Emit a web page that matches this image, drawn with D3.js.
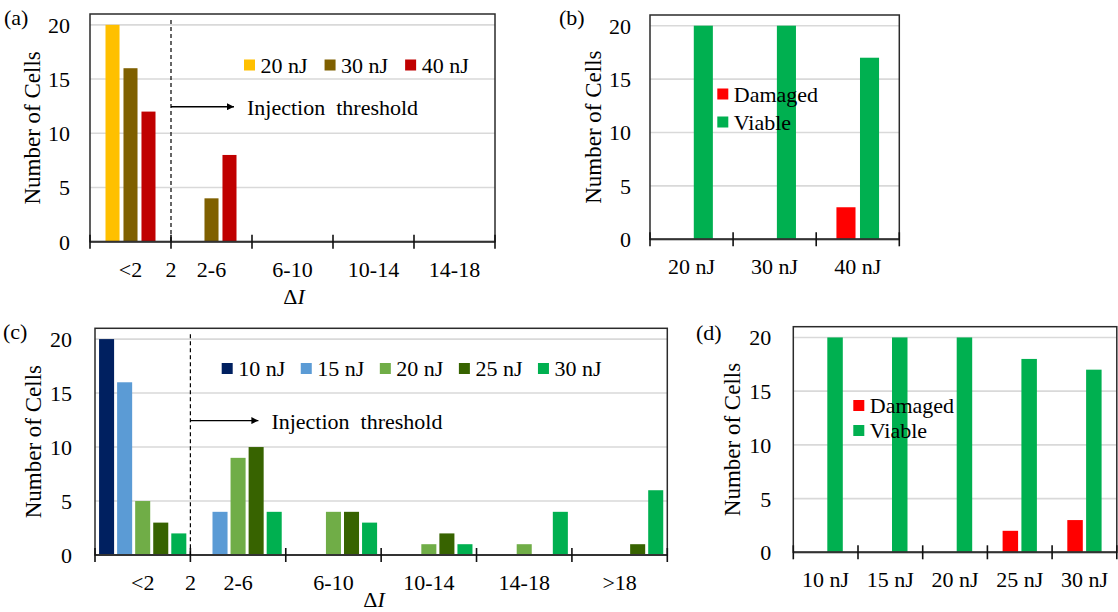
<!DOCTYPE html>
<html>
<head>
<meta charset="utf-8">
<script src="https://cdn.jsdelivr.net/npm/d3@7"></script>
<style>
  html, body { margin: 0; padding: 0; background: #fff; }
  svg { display: block; font-family: "Liberation Serif", "Times New Roman", serif; }
</style>
</head>
<body>
<svg id="fig" width="1118" height="612"></svg>
<script>
// ---- (a) ΔI distribution, first pulse-energy set ----
const binsA = ["<2", "2-6", "6-10", "10-14", "14-18"];
const energiesA = ["20 nJ", "30 nJ", "40 nJ"];
const countsA20 = [20, 0, 0, 0, 0];
const countsA30 = [16, 4, 0, 0, 0];
const countsA40 = [12, 8, 0, 0, 0];
const coloursA = ["#FFC000", "#7F6000", "#C00000"];

// ---- (b) cell status, first pulse-energy set ----
const energiesB = ["20 nJ", "30 nJ", "40 nJ"];
const damagedB = [0, 0, 3];
const viableB = [20, 20, 17];

// ---- (c) ΔI distribution, second pulse-energy set ----
const binsC = ["<2", "2-6", "6-10", "10-14", "14-18", ">18"];
const energiesC = ["10 nJ", "15 nJ", "20 nJ", "25 nJ", "30 nJ"];
const countsC10 = [20, 0, 0, 0, 0, 0];
const countsC15 = [16, 4, 0, 0, 0, 0];
const countsC20 = [5, 9, 4, 1, 1, 0];
const countsC25 = [3, 10, 4, 2, 0, 1];
const countsC30 = [2, 4, 3, 1, 4, 6];
const coloursC = ["#002060", "#5B9BD5", "#70AD47", "#376300", "#00B050"];

// ---- (d) cell status, second pulse-energy set ----
const energiesD = ["10 nJ", "15 nJ", "20 nJ", "25 nJ", "30 nJ"];
const damagedD = [0, 0, 0, 2, 3];
const viableD = [20, 20, 20, 18, 17];

const statusLabels = ["Damaged", "Viable"];
const statusColours = ["#FF0000", "#00B050"];

const yTicks = [0, 5, 10, 15, 20];
const yMax = 21;
const thresholdLabel = "2";
const thresholdText = "Injection  threshold";
const yTitle = "Number of Cells";

const svg = d3.select("#fig");
const defs = svg.append("defs");
defs.append("marker")
  .attr("id", "arrowHead")
  .attr("viewBox", "0 0 10 10")
  .attr("refX", 10).attr("refY", 5)
  .attr("markerWidth", 8).attr("markerHeight", 7)
  .attr("markerUnits", "userSpaceOnUse")
  .attr("orient", "auto")
  .append("path").attr("d", "M0,0 L10,5 L0,10 Z").attr("fill", "#000");

const FONT = 22;

function drawPanel(o) {
  const g = svg.append("g");
  const x = d3.scaleBand().domain(o.cats).range([o.left, o.right]);
  const y = d3.scaleLinear().domain([0, yMax]).range([o.bottom, o.top]);
  const bw = x.bandwidth();
  const gw = bw * o.groupFrac;
  const xi = d3.scaleBand()
    .domain(o.series.map(s => s.name))
    .range([(bw - gw) / 2, (bw + gw) / 2])
    .paddingInner(o.innerPad);

  // horizontal gridlines
  g.append("g").selectAll("line")
    .data(yTicks.filter(t => t > 0))
    .join("line")
    .attr("x1", o.left).attr("x2", o.right)
    .attr("y1", d => y(d)).attr("y2", d => y(d))
    .attr("stroke", "#d9d9d9").attr("stroke-width", 1.6);

  // bars
  o.series.forEach(s => {
    g.append("g").selectAll("rect")
      .data(s.values.map((v, i) => ({ cat: o.cats[i], v })).filter(d => d.v > 0))
      .join("rect")
      .attr("x", d => x(d.cat) + xi(s.name))
      .attr("width", xi.bandwidth())
      .attr("y", d => y(d.v))
      .attr("height", d => y(0) - y(d.v))
      .attr("fill", s.colour);
  });

  // plot frame
  g.append("rect")
    .attr("x", o.left).attr("y", o.top)
    .attr("width", o.right - o.left).attr("height", o.bottom - o.top)
    .attr("fill", "none").attr("stroke", "#2b2b2b").attr("stroke-width", 1.5);

  // y axis labels
  const yAxis = d3.axisLeft(y).tickValues(yTicks).tickSize(0).tickPadding(o.yPad);
  const ya = g.append("g").attr("transform", `translate(${o.left},0)`).call(yAxis);
  ya.attr("font-family", null).attr("font-size", FONT);
  ya.select(".domain").remove();
  ya.selectAll("text").attr("fill", "#000").attr("dy", "0.34em");

  // x axis labels at category centres
  const xAxis = d3.axisBottom(x).tickSize(0).tickPadding(0);
  const xa = g.append("g").attr("transform", `translate(0,${y(0)})`).call(xAxis);
  xa.attr("font-family", null).attr("font-size", FONT);
  xa.select(".domain").remove();
  xa.selectAll("text").attr("fill", "#000").attr("y", 35).attr("dy", null);

  // baseline and category boundary ticks
  g.append("line")
    .attr("x1", o.left).attr("x2", o.right)
    .attr("y1", y(0)).attr("y2", y(0))
    .attr("stroke", "#333").attr("stroke-width", 2);
  const bounds = o.cats.map(c => x(c)).concat([o.right]);
  g.append("g").selectAll("line")
    .data(bounds)
    .join("line")
    .attr("x1", d => d).attr("x2", d => d)
    .attr("y1", y(0) - 7).attr("y2", y(0) + 7)
    .attr("stroke", "#111").attr("stroke-width", 1.6);

  // y axis title
  g.append("text")
    .attr("transform", `translate(${o.left - o.titleOff},${(o.top + o.bottom) / 2}) rotate(-90)`)
    .attr("text-anchor", "middle").attr("dy", "0.35em")
    .attr("font-size", 23).text(yTitle);

  // panel letter
  g.append("text")
    .attr("x", o.tagX).attr("y", o.tagY)
    .attr("font-size", FONT).text(o.tag);

  // legend
  if (o.legendRow) {
    let lx = o.legendX;
    o.series.forEach(s => {
      g.append("rect").attr("x", lx).attr("y", o.legendY - 5.5)
        .attr("width", 11).attr("height", 11).attr("fill", s.colour);
      const t = g.append("text").attr("x", lx + 16.5).attr("y", o.legendY)
        .attr("dy", "0.35em").attr("font-size", FONT).text(s.name);
      lx += 16.5 + t.node().getComputedTextLength() + o.legendGap;
    });
  } else {
    o.series.forEach((s, i) => {
      const ly = o.legendY + i * o.legendStep;
      g.append("rect").attr("x", o.legendX).attr("y", ly - 5.5)
        .attr("width", 11).attr("height", 11).attr("fill", s.colour);
      g.append("text").attr("x", o.legendX + 16.5).attr("y", ly)
        .attr("dy", "0.35em").attr("font-size", FONT).text(s.name);
    });
  }

  // injection threshold marker and ΔI axis title
  if (o.threshold) {
    const tx = x(o.cats[1]);
    g.append("line")
      .attr("x1", tx).attr("x2", tx)
      .attr("y1", y(20.45)).attr("y2", y(0))
      .attr("stroke", "#000").attr("stroke-width", 1.2)
      .attr("stroke-dasharray", "4,3");
    g.append("text")
      .attr("x", tx).attr("y", y(0) + 35)
      .attr("text-anchor", "middle").attr("font-size", FONT).text(thresholdLabel);
    const ay = y(12.45);
    g.append("line")
      .attr("x1", tx).attr("x2", tx + o.arrowLen)
      .attr("y1", ay).attr("y2", ay)
      .attr("stroke", "#000").attr("stroke-width", 1.4)
      .attr("marker-end", "url(#arrowHead)");
    g.append("text")
      .attr("x", tx + o.arrowLen + 13).attr("y", ay + 1)
      .attr("dy", "0.35em").attr("font-size", FONT)
      .attr("xml:space", "preserve").style("white-space", "pre")
      .text(thresholdText);
    const dl = g.append("text")
      .attr("x", o.dX).attr("y", o.dY)
      .attr("text-anchor", "middle").attr("font-size", FONT);
    dl.append("tspan").text("\u0394");
    dl.append("tspan").attr("font-style", "italic").text("I");
  }
}

drawPanel({
  tag: "(a)", tagX: 4, tagY: 25,
  cats: binsA,
  series: energiesA.map((n, i) => ({ name: n, colour: coloursA[i], values: [countsA20, countsA30, countsA40][i] })),
  left: 90, right: 495, top: 14, bottom: 241.7,
  groupFrac: 50 / 81, innerPad: 0.22,
  yPad: 20, titleOff: 58,
  legendRow: true, legendX: 244, legendY: 65, legendGap: 17,
  threshold: true, arrowLen: 63, dX: 294, dY: 304
});

drawPanel({
  tag: "(b)", tagX: 559, tagY: 25,
  cats: energiesB,
  series: statusLabels.map((n, i) => ({ name: n, colour: statusColours[i], values: [damagedB, viableB][i] })),
  left: 650, right: 899.3, top: 15, bottom: 239.3,
  groupFrac: 0.513, innerPad: 0.19,
  yPad: 19, titleOff: 57,
  legendRow: false, legendX: 717.3, legendY: 94, legendStep: 28,
  threshold: false
});

drawPanel({
  tag: "(c)", tagX: 3, tagY: 339,
  cats: binsC,
  series: energiesC.map((n, i) => ({ name: n, colour: coloursC[i], values: [countsC10, countsC15, countsC20, countsC25, countsC30][i] })),
  left: 95, right: 667.3, top: 328.3, bottom: 555,
  groupFrac: 0.915, innerPad: 0.167,
  yPad: 23, titleOff: 62,
  legendRow: true, legendX: 221.7, legendY: 368.5, legendGap: 15.5,
  threshold: true, arrowLen: 68, dX: 374, dY: 607
});

drawPanel({
  tag: "(d)", tagX: 696, tagY: 340,
  cats: energiesD,
  series: statusLabels.map((n, i) => ({ name: n, colour: statusColours[i], values: [damagedD, viableD][i] })),
  left: 793.3, right: 1116.8, top: 326.7, bottom: 552.3,
  groupFrac: 0.53, innerPad: 0.176,
  yPad: 22, titleOff: 61.5,
  legendRow: false, legendX: 853.3, legendY: 405.5, legendStep: 25,
  threshold: false
});
</script>
</body>
</html>
